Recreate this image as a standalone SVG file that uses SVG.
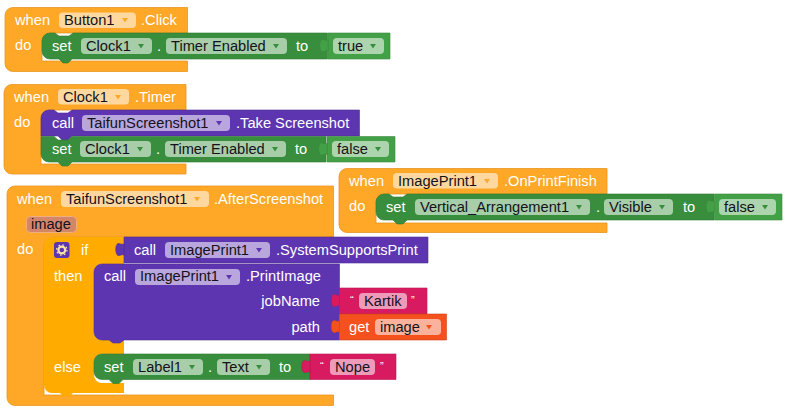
<svg xmlns="http://www.w3.org/2000/svg" xmlns:xlink="http://www.w3.org/1999/xlink" width="790" height="415" viewBox="0 0 790 415">
<style>
text{font-family:"Liberation Sans",Arial,sans-serif;font-size:14.67px;fill:#fff}
text.d{fill:#14121a}
.e{fill:#ffa726;stroke:#e8951f;stroke-width:.8}
.g{fill:#388e3c;stroke:#2f7a33;stroke-width:.6}
.gv{fill:#43a047;stroke:#3a8a3e;stroke-width:.6}
.p{fill:#5e35b1;stroke:#4f2c96;stroke-width:.6}
.k{fill:#d81b60;stroke:#b9174f;stroke-width:.6}
.o{fill:#f4511e;stroke:#d24419;stroke-width:.6}
.a{fill:#ffab00}
.f{fill:#fff;fill-opacity:.56}
.tg{fill:#388e3c}.tge{fill:#ffa726}.tp{fill:#5e35b1}.tk{fill:#d81b60}
</style>
<defs>
<path id="tab" d="M0,7 C-3,8 -4,6 -6,6.500 C-9,7.500 -9,17.500 -6,18.500 C-4,19 -3,17 0,18 Z"/>
<path id="tri" d="M-3,-2 H3 L0,2.500 Z"/>
</defs>
<rect width="790" height="415" fill="#fff"/>

<g id="event-button1-click">
<path class="e" d="M13,7.500 H187.500 V33 H50 a8,8 0 0 0 -8,8 V61 H187.500 V71.500 H13 a8,8 0 0 1 -8,-8 V15.500 a8,8 0 0 1 8,-8 Z"/>
<text x="15" y="25">when</text><rect class="f" x="59" y="12.500" width="77" height="15.500" rx="4"/><text class="d" x="64" y="25">Button1</text><use href="#tri" x="125" y="20" class="tge"/><text x="141" y="25">.Click</text>
<text x="15" y="50">do</text>
</g>
<g id="set-clock1-true">
<path class="g" d="M50,33 H55 l4,3 h10 l4,-3 H327.500 V59 H72 l-4,4 h-5 l-4,-4 H50 a8,8 0 0 1 -8,-8 V41 a8,8 0 0 1 8,-8 Z"/>
<text x="52" y="51">set</text><rect class="f" x="81" y="38" width="71" height="16" rx="4"/><text class="d" x="86" y="51">Clock1</text><use href="#tri" x="141" y="46" class="tg"/>
<text x="157" y="51">.</text><rect class="f" x="166" y="38" width="121" height="16" rx="4"/><text class="d" x="171" y="51">Timer Enabled</text><use href="#tri" x="276" y="46" class="tg"/>
<text x="296" y="51">to</text>
<path class="gv" d="M328,33 H390 V59 H328 Z"/><use href="#tab" x="328" y="33" class="gv"/>
<rect class="f" x="333" y="38" width="51" height="16" rx="4"/><text class="d" x="338" y="51">true</text><use href="#tri" x="373" y="46" class="tg"/>
</g>

<g id="event-clock1-timer">
<path class="e" d="M12,84.500 H186 V110 H49 a8,8 0 0 0 -8,8 V164 H186 V174 H12 a8,8 0 0 1 -8,-8 V92.500 a8,8 0 0 1 8,-8 Z"/>
<text x="14" y="102">when</text><rect class="f" x="58" y="89" width="71" height="15.500" rx="4"/><text class="d" x="63" y="102">Clock1</text><use href="#tri" x="118" y="97" class="tge"/><text x="135" y="102">.Timer</text>
<text x="14" y="127">do</text>
</g>
<g id="call-take-screenshot">
<path class="p" d="M49,110 H54 l4,3 h10 l4,-3 H359.500 V136 H72 l-4,4 h-6 l-4,-4 H41 V118 a8,8 0 0 1 8,-8 Z"/>
<text x="52" y="128">call</text><rect class="f" x="82" y="115" width="148" height="16" rx="4"/><text class="d" x="87" y="128">TaifunScreenshot1</text><use href="#tri" x="219" y="123" class="tp"/><text x="236" y="128">.Take Screenshot</text>
</g>
<g id="set-clock1-false">
<path class="g" d="M41,136.500 H54 l4,3.500 h10 l4,-3.500 H326 V162 H72 l-4,4 h-6 l-4,-4 H49 a8,8 0 0 1 -8,-8 Z"/>
<text x="52" y="154">set</text><rect class="f" x="80" y="141" width="71" height="16" rx="4"/><text class="d" x="85" y="154">Clock1</text><use href="#tri" x="140" y="149" class="tg"/>
<text x="156" y="154">.</text><rect class="f" x="165" y="141" width="121" height="16" rx="4"/><text class="d" x="170" y="154">Timer Enabled</text><use href="#tri" x="275" y="149" class="tg"/>
<text x="295" y="154">to</text>
<path class="gv" d="M327,136.500 H395 V162 H327 Z"/><use href="#tab" x="327" y="136.500" class="gv"/>
<rect class="f" x="332" y="141" width="57" height="16" rx="4"/><text class="d" x="337" y="154">false</text><use href="#tri" x="378" y="149" class="tg"/>
</g>

<g id="event-taifun-afterscreenshot">
<path class="e" d="M15,186 H333.500 V237 H52 a8,8 0 0 0 -8,8 V395 H333.500 V405.500 H15 a8,8 0 0 1 -8,-8 V194 a8,8 0 0 1 8,-8 Z"/>
<text x="17" y="204">when</text><rect class="f" x="61" y="191" width="148" height="16" rx="4"/><text class="d" x="66" y="204">TaifunScreenshot1</text><use href="#tri" x="197" y="199" class="tge"/><text x="214" y="204">.AfterScreenshot</text>
<rect x="26.500" y="216.500" width="50" height="16" rx="4" fill="#d3866a" stroke="#eeae80"/><text class="d" x="31" y="229">image</text>
<text x="17" y="254">do</text>
</g>
<g id="if-block">
<path class="a" d="M52,237 H124 V264 H102 a8,8 0 0 0 -8,8 V332 a8,8 0 0 0 8,8 H124 V354 H102 a8,8 0 0 0 -8,8 V375 a8,8 0 0 0 8,8 H124 V393 H73 l-3,3 h-7 l-3,-3 H52 a8,8 0 0 1 -8,-8 V245 a8,8 0 0 1 8,-8 Z"/>
<rect x="54" y="242" width="15.500" height="16" rx="3" fill="#5e35b1"/>
<circle cx="61.800" cy="250" r="3.400" fill="none" stroke="#f5e3a8" stroke-width="2.200"/>
<circle cx="61.800" cy="250" r="5.200" fill="none" stroke="#f5e3a8" stroke-width="1.200" stroke-dasharray="1.600 2.480"/>
<text x="81" y="255">if</text><text x="54" y="281">then</text><text x="54" y="372">else</text>
</g>
<g id="call-supports-print">
<path class="p" d="M124,237 H428 V263 H124 Z"/><use href="#tab" x="124" y="237" class="p"/>
<text x="134" y="255">call</text><rect class="f" x="165" y="242" width="105" height="16" rx="4"/><text class="d" x="170" y="255">ImagePrint1</text><use href="#tri" x="259" y="250" class="tp"/><text x="276" y="255">.SystemSupportsPrint</text>
</g>
<g id="call-print-image">
<path class="p" d="M102,264 H339.500 V340 H124 l-4,3 h-7 l-4,-3 H102 a8,8 0 0 1 -8,-8 V272 a8,8 0 0 1 8,-8 Z"/>
<text x="104" y="281">call</text><rect class="f" x="135" y="269" width="105" height="16" rx="4"/><text class="d" x="140" y="281">ImagePrint1</text><use href="#tri" x="229" y="277" class="tp"/><text x="246" y="281">.PrintImage</text>
<text x="320" y="306" text-anchor="end">jobName</text><text x="320" y="332" text-anchor="end">path</text>
</g>
<g id="string-kartik">
<path class="k" d="M339.500,288 H427 V314 H339.500 Z"/><use href="#tab" x="339.500" y="288" class="k"/>
<text x="350" y="304" style="font-size:11px">“</text><rect class="f" x="359" y="293" width="48" height="16" rx="4"/><text class="d" x="364" y="306">Kartik</text><text x="411" y="304" style="font-size:11px">”</text>
</g>
<g id="get-image">
<path class="o" d="M339.500,314 H446.500 V340 H339.500 Z"/><use href="#tab" x="339.500" y="314" class="o"/>
<text x="349" y="332">get</text><rect class="f" x="375" y="319" width="66" height="16" rx="4"/><text class="d" x="380" y="332">image</text><use href="#tri" x="429" y="327" style="fill:#f4511e"/>
</g>
<g id="set-label1-text">
<path class="g" d="M102,354 H105 l4,-0 h10 l4,0 H310 V379.500 H123 l-4,4 h-6 l-4,-4 H102 a8,8 0 0 1 -8,-8 V362 a8,8 0 0 1 8,-8 Z"/>
<text x="104" y="372">set</text><rect class="f" x="133" y="359" width="70" height="16" rx="4"/><text class="d" x="138" y="372">Label1</text><use href="#tri" x="192" y="367" class="tg"/>
<text x="208" y="372">.</text><rect class="f" x="217" y="359" width="53" height="16" rx="4"/><text class="d" x="222" y="372">Text</text><use href="#tri" x="259" y="367" class="tg"/>
<text x="279" y="372">to</text>
</g>
<g id="string-nope">
<path class="k" d="M310,354 H396 V379.500 H310 Z"/><use href="#tab" x="310" y="354" class="k"/>
<text x="320" y="370" style="font-size:11px">“</text><rect class="f" x="330" y="359" width="45" height="16" rx="4"/><text class="d" x="335" y="372">Nope</text><text x="380" y="370" style="font-size:11px">”</text>
</g>

<g id="event-imageprint-onprintfinish">
<path class="e" d="M347,168.500 H607 V194 H384 a8,8 0 0 0 -8,8 V223 H607 V232.500 H347 a8,8 0 0 1 -8,-8 V176.500 a8,8 0 0 1 8,-8 Z"/>
<text x="349" y="186">when</text><rect class="f" x="393" y="173" width="105" height="15.500" rx="4"/><text class="d" x="398" y="186">ImagePrint1</text><use href="#tri" x="487" y="181" class="tge"/><text x="504" y="186">.OnPrintFinish</text>
<text x="349" y="211">do</text>
</g>
<g id="set-visible-false">
<path class="g" d="M384,194 H389 l4,3 h10 l4,-3 H714 V220 H407 l-4,4 h-6 l-4,-4 H384 a8,8 0 0 1 -8,-8 V202 a8,8 0 0 1 8,-8 Z"/>
<text x="386" y="212">set</text><rect class="f" x="415" y="199" width="175" height="16" rx="4"/><text class="d" x="420" y="212">Vertical_Arrangement1</text><use href="#tri" x="579" y="207" class="tg"/>
<text x="596" y="212">.</text><rect class="f" x="604" y="199" width="69" height="16" rx="4"/><text class="d" x="609" y="212">Visible</text><use href="#tri" x="662" y="207" class="tg"/>
<text x="683" y="212">to</text>
<path class="gv" d="M714.500,194 H782 V220 H714.500 Z"/><use href="#tab" x="714.500" y="194" class="gv"/>
<rect class="f" x="719" y="199" width="57" height="16" rx="4"/><text class="d" x="724" y="212">false</text><use href="#tri" x="765" y="207" class="tg"/>
</g>
<g id="connectors"/>
</svg>
